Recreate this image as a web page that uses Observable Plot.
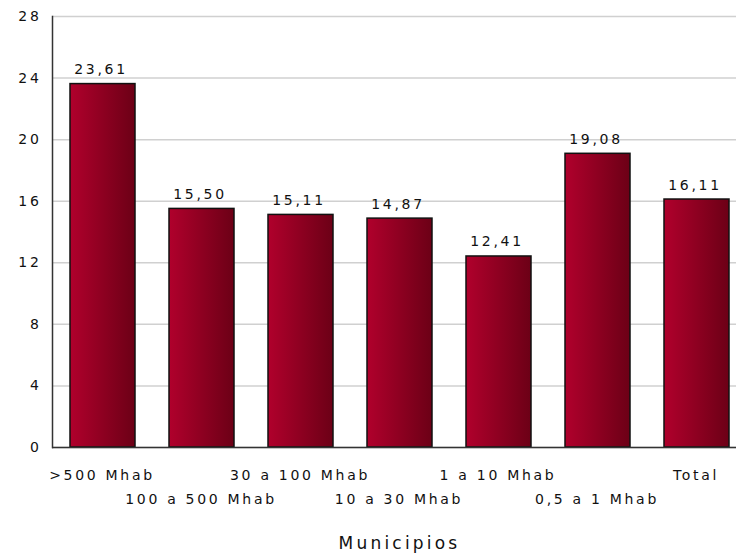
<!DOCTYPE html>
<html>
<head>
<meta charset="utf-8">
<script src="https://cdn.jsdelivr.net/npm/d3@7"></script>
<script src="https://cdn.jsdelivr.net/npm/@observablehq/plot@0.6"></script>
<style>
  html, body { margin: 0; padding: 0; background: #fff; }
  #chart svg { display: block; }
</style>
</head>
<body>
<div id="chart"></div>
<script>
const categories = [">500 Mhab", "100 a 500 Mhab", "30 a 100 Mhab", "10 a 30 Mhab", "1 a 10 Mhab", "0,5 a 1 Mhab", "Total"];
const values = [23.61, 15.50, 15.11, 14.87, 12.41, 19.08, 16.11];
const yTicks = [0, 4, 8, 12, 16, 20, 24, 28];
const axisTitle = "Municipios";

const data = categories.map((c, i) => ({cat: c, value: values[i]}));
const fmt = v => v.toFixed(2).replace(".", ",");
const font = "DejaVu Sans, Verdana, sans-serif";

const plot = Plot.plot({
  width: 736,
  height: 553,
  marginLeft: 52,
  marginRight: 0,
  marginTop: 16,
  marginBottom: 106,
  style: {fontFamily: font, fontSize: "14px", color: "#111", background: "#fff", letterSpacing: "2.7px"},
  x: {domain: categories, range: [52, 748], paddingInner: 0.34, paddingOuter: 0.17, align: 0.5},
  y: {domain: [0, 28], ticks: yTicks},
  marks: [
    Plot.ruleY(yTicks, {stroke: "#d0d0d0", strokeWidth: 1.5}),
    Plot.axisY(yTicks, {tickSize: 0, tickPadding: 11, label: null, fontSize: 14, fill: "#111"}),
    Plot.barY(data, {x: "cat", y: "value", fill: "url(#barGrad)", stroke: "#111", strokeWidth: 1.5}),
    Plot.ruleY([0], {stroke: "#333", strokeWidth: 1.5}),
    Plot.frame({anchor: "left", stroke: "#333", strokeWidth: 1.5}),
    Plot.text(data, {x: "cat", y: "value", text: d => fmt(d.value), lineAnchor: "bottom", dy: -10, dx: -2, fontSize: 14, fill: "#111"}),
    Plot.axisX(categories.filter((d, i) => i % 2 === 0), {tickSize: 0, tickPadding: 23, label: null, fontSize: 14, dx: -1, fill: "#111"}),
    Plot.axisX(categories.filter((d, i) => i % 2 === 1), {tickSize: 0, tickPadding: 47, label: null, fontSize: 14, dx: -1, fill: "#111"}),
    Plot.text([axisTitle], {frameAnchor: "bottom", dy: 101, dx: 5, lineAnchor: "bottom", fontSize: 17, fill: "#111"})
  ]
});

const svg = d3.select(plot);
const grad = svg.insert("defs", ":first-child").append("linearGradient")
  .attr("id", "barGrad").attr("x1", "0%").attr("x2", "100%").attr("y1", "0%").attr("y2", "0%");
grad.append("stop").attr("offset", "0%").attr("stop-color", "#b0002c");
grad.append("stop").attr("offset", "100%").attr("stop-color", "#6c0016");
svg.selectAll("text").filter(function() { return this.textContent === axisTitle; })
  .style("letter-spacing", "3.2px");

document.getElementById("chart").appendChild(plot);
</script>
</body>
</html>
